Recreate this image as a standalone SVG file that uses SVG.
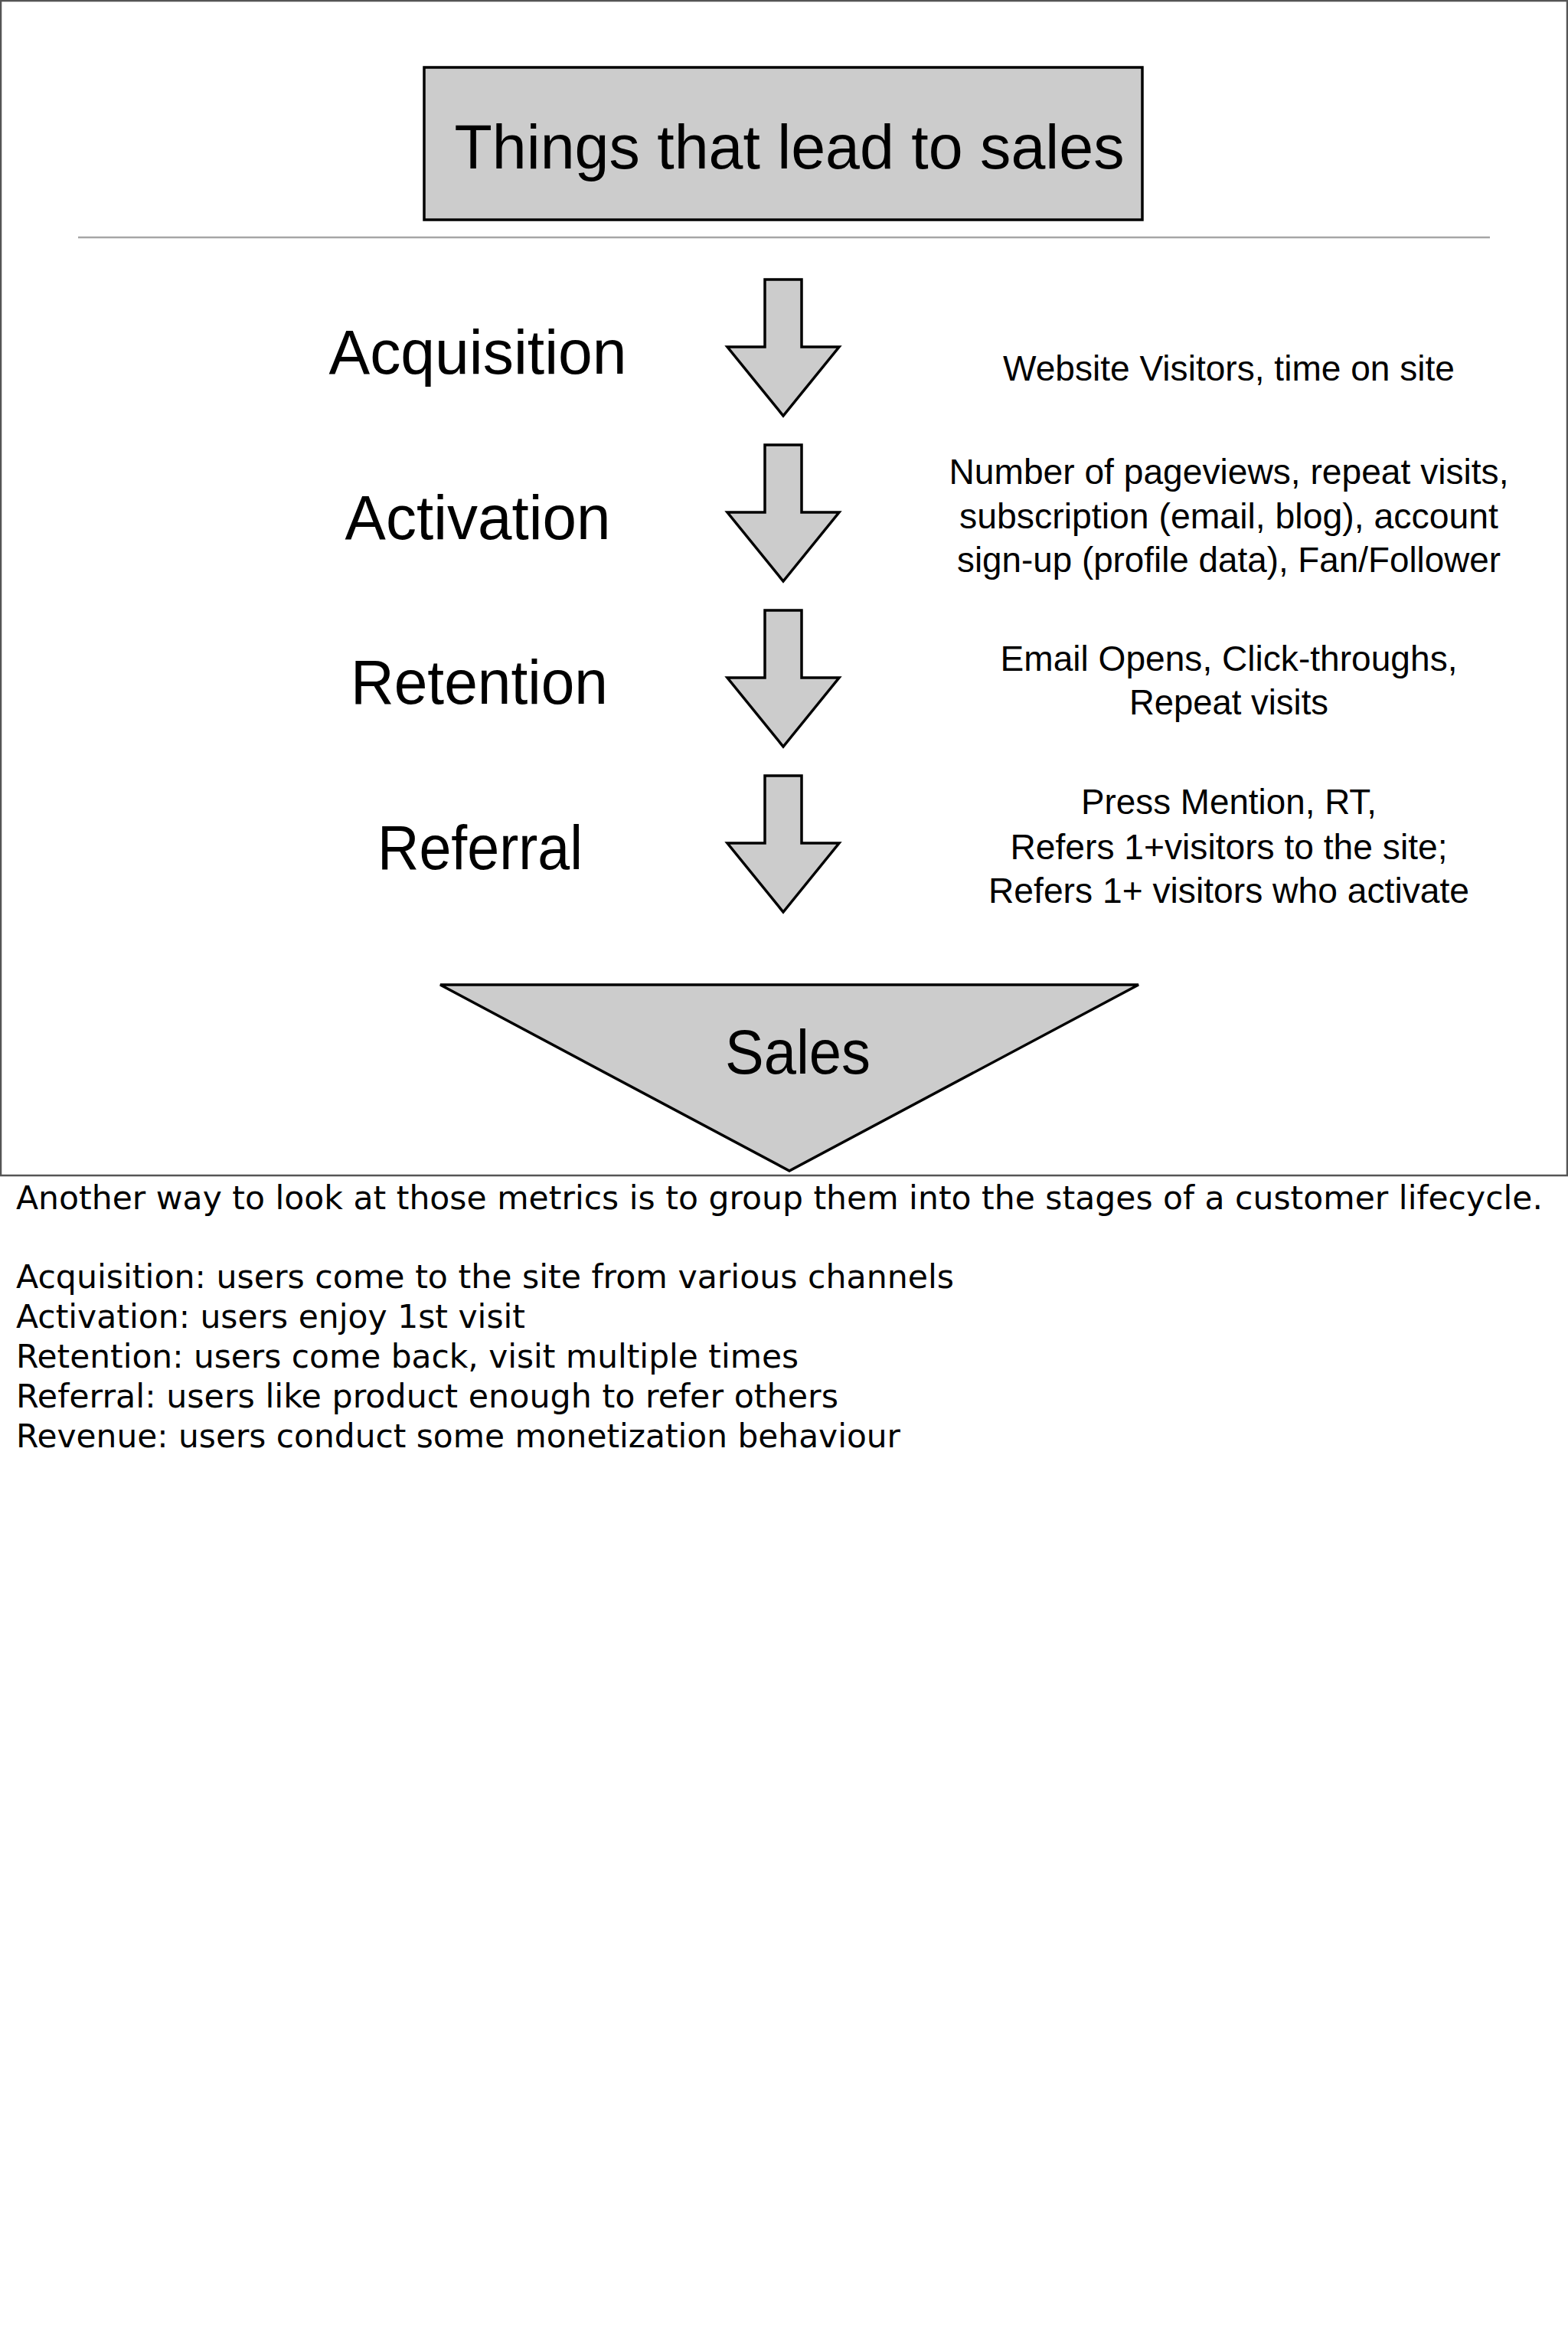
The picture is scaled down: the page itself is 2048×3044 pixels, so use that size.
<svg xmlns="http://www.w3.org/2000/svg" width="2048" height="3044" viewBox="0 0 2048 3044">
<style>
.shape{fill:#cccccc;stroke:#000000;stroke-width:3.5;stroke-linejoin:miter}
.big{font-family:"Liberation Sans",Arial,Helvetica,sans-serif;font-size:82px;fill:#000;text-anchor:middle}
.mid{font-family:"Liberation Sans",Arial,Helvetica,sans-serif;font-size:46px;fill:#000;text-anchor:middle}
.note{font-family:"DejaVu Sans","Open Sans",sans-serif;font-size:43px;fill:#000}
</style>
<defs>
<path id="arrowShape" d="M999,365 L1047,365 L1047,453 L1096,453 L1023,543 L950,453 L999,453 Z"/>
</defs>
<rect x="0" y="0" width="2048" height="3044" fill="#ffffff"/>
<rect id="frame" x="1" y="1" width="2046" height="1534" fill="#ffffff" stroke="#555555" stroke-width="2.5"/>
<line id="separator" x1="102" y1="310" x2="1946" y2="310" stroke="#a6a6a6" stroke-width="2.5"/>

<g id="title">
<rect class="shape" x="554" y="88" width="938" height="199"/>
<text class="big" x="1031" y="220" textLength="875" lengthAdjust="spacingAndGlyphs">Things that lead to sales</text>
</g>

<g id="connectors">
<use href="#arrowShape" class="shape"/>
<use href="#arrowShape" class="shape" transform="translate(0,216)"/>
<use href="#arrowShape" class="shape" transform="translate(0,432)"/>
<use href="#arrowShape" class="shape" transform="translate(0,648)"/>
</g>

<g id="acquisition">
<text class="big" x="624" y="488" textLength="389" lengthAdjust="spacingAndGlyphs">Acquisition</text>
<text class="mid" x="1605" y="497" textLength="590" lengthAdjust="spacingAndGlyphs">Website Visitors, time on site</text>
</g>

<g id="activation">
<text class="big" x="624" y="704" textLength="347" lengthAdjust="spacingAndGlyphs">Activation</text>
<text class="mid" x="1605" y="632" textLength="731" lengthAdjust="spacingAndGlyphs">Number of pageviews, repeat visits,</text>
<text class="mid" x="1605" y="690" textLength="704" lengthAdjust="spacingAndGlyphs">subscription (email, blog), account</text>
<text class="mid" x="1605" y="747" textLength="710" lengthAdjust="spacingAndGlyphs">sign-up (profile data), Fan/Follower</text>
</g>

<g id="retention">
<text class="big" x="626" y="919" textLength="336" lengthAdjust="spacingAndGlyphs">Retention</text>
<text class="mid" x="1605" y="876" textLength="597" lengthAdjust="spacingAndGlyphs">Email Opens, Click-throughs,</text>
<text class="mid" x="1605" y="933" textLength="260" lengthAdjust="spacingAndGlyphs">Repeat visits</text>
</g>

<g id="referral">
<text class="big" x="627" y="1135" textLength="268" lengthAdjust="spacingAndGlyphs">Referral</text>
<text class="mid" x="1605" y="1063" textLength="386" lengthAdjust="spacingAndGlyphs">Press Mention, RT,</text>
<text class="mid" x="1605" y="1122" textLength="571" lengthAdjust="spacingAndGlyphs">Refers 1+visitors to the site;</text>
<text class="mid" x="1605" y="1179" textLength="628" lengthAdjust="spacingAndGlyphs">Refers 1+ visitors who activate</text>
</g>

<g id="sales">
<polygon class="shape" points="575,1286 1487,1286 1031,1529"/>
<text class="big" x="1042" y="1402" textLength="190" lengthAdjust="spacingAndGlyphs">Sales</text>
</g>

<g id="notes">
<text class="note" x="21" y="1579" textLength="1994" lengthAdjust="spacingAndGlyphs">Another way to look at those metrics is to group them into the stages of a customer lifecycle.</text>
<text class="note" x="21" y="1682" textLength="1225" lengthAdjust="spacingAndGlyphs">Acquisition: users come to the site from various channels</text>
<text class="note" x="21" y="1734" textLength="665" lengthAdjust="spacingAndGlyphs">Activation: users enjoy 1st visit</text>
<text class="note" x="21" y="1786" textLength="1022" lengthAdjust="spacingAndGlyphs">Retention: users come back, visit multiple times</text>
<text class="note" x="21" y="1838" textLength="1074" lengthAdjust="spacingAndGlyphs">Referral: users like product enough to refer others</text>
<text class="note" x="21" y="1890" textLength="1155" lengthAdjust="spacingAndGlyphs">Revenue: users conduct some monetization behaviour</text>
</g>
</svg>
